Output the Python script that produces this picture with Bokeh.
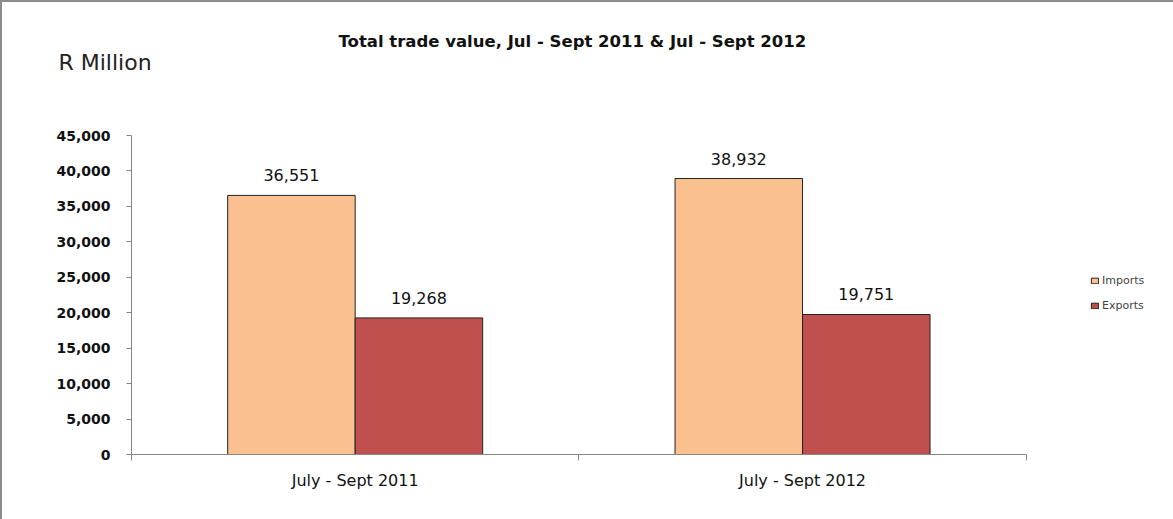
from bokeh.plotting import figure
from bokeh.models import (ColumnDataSource, FixedTicker, NumeralTickFormatter, Range1d,
                          LabelSet, Legend, LegendItem, Title)
from bokeh.core.properties import value
from bokeh.transform import dodge
from bokeh.embed import file_html
from bokeh.resources import INLINE

categories = ["July - Sept 2011", "July - Sept 2012"]
imports = [36551, 38932]
exports = [19268, 19751]
series_names = ["Imports", "Exports"]
y_ticks = [0, 5000, 10000, 15000, 20000, 25000, 30000, 35000, 40000, 45000]
title_text = "Total  trade value, Jul - Sept 2011 &  Jul - Sept 2012"
unit_text = "R Million"

FONT = "DejaVu Sans"
W, H = 1173, 519
LEFT, TOP, PLOT_W, PLOT_H = 129, 133, 893, 317
n = len(categories)
centers = [i + 0.5 for i in range(n)]
src = ColumnDataSource(dict(
    x=centers,
    imports=imports,
    exports=exports,
    imp_lbl=[f"{v:,}" for v in imports],
    exp_lbl=[f"{v:,}" for v in exports],
))

# frame extends to the right edge so the legend can live inside it;
# the x axis itself is bounded to the category span
x_end = n * (W - 2 - LEFT) / PLOT_W
p = figure(width=W, height=H, output_backend="svg", toolbar_location=None,
           x_range=Range1d(0, x_end), y_range=Range1d(0, 45000),
           min_border_left=LEFT, min_border_right=0, min_border_top=TOP,
           min_border_bottom=H - 2 - TOP - PLOT_H)
p.styles = {"border-left": "2px solid #8c8c8c", "border-top": "2px solid #8c8c8c"}
p.outline_line_color = None
p.grid.visible = False

bw = 0.285
r_imp = p.vbar(x=dodge("x", -bw / 2, range=p.x_range), top="imports", width=bw, source=src,
               fill_color="#FAC090", line_color="#222222", line_width=1)
r_exp = p.vbar(x=dodge("x", bw / 2, range=p.x_range), top="exports", width=bw, source=src,
               fill_color="#C0504D", line_color="#222222", line_width=1)

for col, top, off in (("imp_lbl", "imports", -bw / 2), ("exp_lbl", "exports", bw / 2)):
    p.add_layout(LabelSet(x=dodge("x", off, range=p.x_range), y=top, text=col, source=src,
                          text_align="center", text_baseline="middle", y_offset=20,
                          text_font=value(FONT), text_font_size="16px", text_color="#111111"))

# y axis
p.yaxis.ticker = FixedTicker(ticks=y_ticks)
p.yaxis.formatter = NumeralTickFormatter(format="0,0")
p.yaxis.axis_line_color = "#868686"
p.yaxis.major_tick_line_color = "#868686"
p.yaxis.major_tick_out = 5
p.yaxis.major_tick_in = 0
p.yaxis.minor_tick_line_color = None
p.yaxis.major_label_text_font = FONT
p.yaxis.major_label_text_font_size = "14px"
p.yaxis.major_label_text_font_style = "bold"
p.yaxis.major_label_text_color = "#111111"
p.yaxis.major_label_standoff = 16

# x axis
p.xaxis.bounds = (0, n)
p.xaxis.ticker = FixedTicker(ticks=centers, minor_ticks=list(range(n + 1)))
p.xaxis.major_label_overrides = {c: lab for c, lab in zip(centers, categories)}
p.xaxis.axis_line_color = "#868686"
p.xaxis.major_tick_line_color = None
p.xaxis.minor_tick_line_color = "#868686"
p.xaxis.minor_tick_out = 6
p.xaxis.minor_tick_in = 0
p.xaxis.major_label_text_font = FONT
p.xaxis.major_label_text_font_size = "16px"
p.xaxis.major_label_text_color = "#111111"
p.xaxis.major_label_standoff = 10

# title rows stack outward from the frame; a blank spacer row comes first
t_gap = Title(text=" ", align="left", standoff=48, text_font=FONT, text_font_size="10px")
t_unit = Title(text=unit_text, align="left", offset=-73, standoff=0,
               text_font=FONT, text_font_size="22px", text_font_style="normal",
               text_color="#222222")
t_main = Title(text=title_text, align="left", offset=207, standoff=-7,
               text_font=FONT, text_font_size="16.5px", text_font_style="bold",
               text_color="#111111")
p.add_layout(t_gap, "above")
p.add_layout(t_unit, "above")
p.add_layout(t_main, "above")

legend = Legend(items=[LegendItem(label=series_names[0], renderers=[r_imp]),
                       LegendItem(label=series_names[1], renderers=[r_exp])],
                location=(959, 142), label_text_font=FONT, label_text_font_size="11px",
                glyph_width=9, glyph_height=7, spacing=12, label_standoff=3,
                border_line_color=None, background_fill_alpha=0)
p.add_layout(legend, "center")

open("out.html", "w").write(file_html(p, INLINE))
